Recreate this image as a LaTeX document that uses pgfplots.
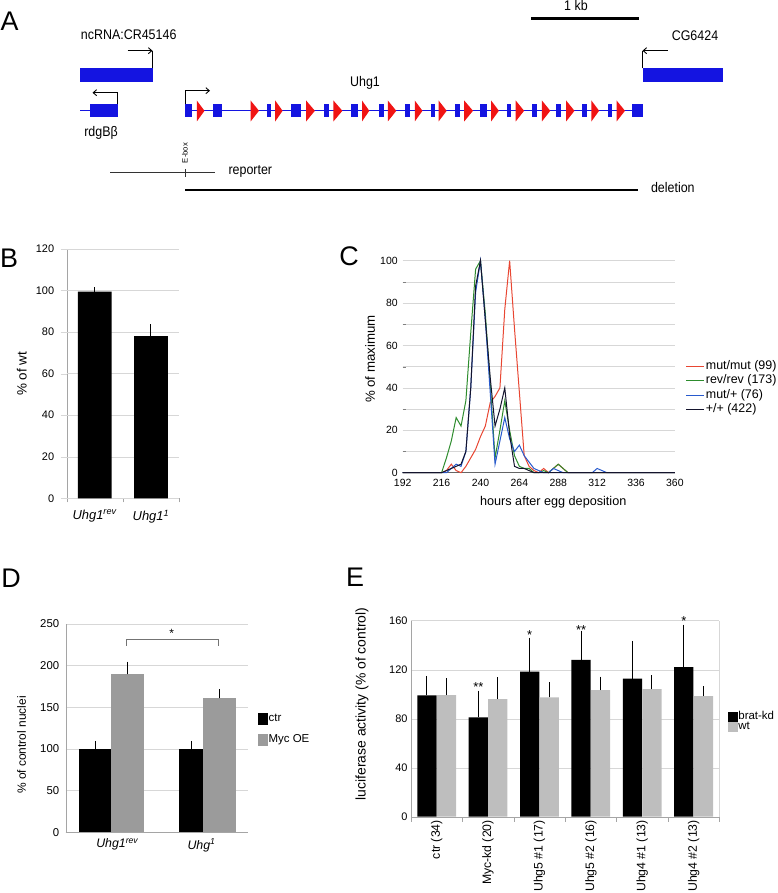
\documentclass[border=0pt]{standalone}
\usepackage{fontspec}
\setmainfont{Liberation Sans}
\usepackage{pgfplots}
\pgfplotsset{compat=1.18}
\usetikzlibrary{arrows.meta}
\definecolor{gblue}{RGB}{20,20,225}
\definecolor{gred}{RGB}{240,20,20}
\definecolor{cred}{RGB}{232,70,50}
\definecolor{cgreen}{RGB}{45,140,45}
\definecolor{cblue}{RGB}{40,90,205}
\definecolor{cblack}{RGB}{20,20,45}
\definecolor{gridc}{RGB}{215,215,215}
\definecolor{axc}{RGB}{165,165,165}
\definecolor{dgray}{RGB}{155,155,155}
\definecolor{egray}{RGB}{190,190,190}
\newcommand{\fs}[1]{\fontsize{#1}{#1}\selectfont}
\pgfplotsset{
  panel/.style={scale only axis, anchor=south west, enlargelimits=false, clip=false,
    /pgf/number format/assume math mode=true,
    axis x line*=bottom, axis y line*=left, axis line style={draw=axc},
    grid style={gridc}, major tick length=0pt},
  ebar/.style={error bars/.cd, y dir=plus, y explicit,
    error bar style={line width=1bp,color=black},
    error mark options={mark size=3.5bp,line width=1bp,black}, /pgfplots/.cd},
}
\tikzset{atxt/.style={font=\fs{12.5}, yscale=1.12}}
\begin{document}
\begin{tikzpicture}
\path[use as bounding box] (0,0) rectangle (778bp,893bp);
\begin{scope}[x=1bp,y=-1bp,yshift=893bp]
% panel letters
\node[font=\fs{27}] at (9.5,21) {A};
\node[font=\fs{27}] at (9,258) {B};
\node[font=\fs{27}] at (349,256.5) {C};
\node[font=\fs{27}] at (11,578) {D};
\node[font=\fs{27}] at (355,577) {E};
% scale bar
\draw[line width=3bp] (531,19) -- (638.5,19);
\node[atxt] at (576,6) {1 kb};
% flanking genes
\node[atxt] at (128.7,35) {ncRNA:CR45146};
\node[atxt] at (695,36) {CG6424};
\fill[gblue] (80,68.3) rectangle (152.5,81.7);
\fill[gblue] (642.5,68.3) rectangle (722.5,81.7);
\draw[line width=0.9bp] (152.5,68.3) -- (152.5,50.7);
\draw[line width=0.9bp,-{Straight Barb[length=3.5bp,width=6bp]}] (127.5,50.7) -- (152.5,50.7);
\draw[line width=0.9bp] (642.5,68.3) -- (642.5,50.7);
\draw[line width=0.9bp,-{Straight Barb[length=3.5bp,width=6bp]}] (667.5,50.7) -- (642.5,50.7);
% rdgB beta
\draw[gblue,line width=0.9bp] (80,110.8) -- (90,110.8);
\fill[gblue] (90,104.3) rectangle (117.5,117.3);
\draw[line width=0.9bp,-{Straight Barb[length=3.5bp,width=6bp]}] (117.5,104.3) -- (117.5,92.7) -- (92.5,92.7);
\node[atxt] at (101,132.7) {rdgBβ};
% Uhg1
\node[atxt] at (365,82.7) {Uhg1};
\draw[gblue,line width=0.9bp] (185,110.8) -- (642.5,110.8);
\draw[line width=0.9bp,-{Straight Barb[length=3.5bp,width=6bp]}] (185,104.3) -- (185,90.7) -- (210,90.7);
\foreach \a/\b in {185/192.1,212.9/222.3,267.1/271.1,291.3/301.4,323.9/329,351.2/357.6,379.4/383.5,405/410.4,430.6/434.9,455.1/460.2,480.4/487.1,507.3/511.3,531.8/536.9,556.1/561.1,582.3/587.3,607.5/611.6,631.7/642.5}
  \fill[gblue] (\a,104.5) rectangle (\b,117);
\foreach \a/\b in {196.8/204.5,250.6/259,275.2/282.6,306.1/314.9,333.4/342.4,362/369.3,387.8/396.3,414.8/422.5,438.6/446.7,464.2/473,491.1/498.9,515.7/524.1,541.9/550.3,566.1/574.5,591.4/599.1,616.6/625}
  \fill[gred] (\a,100.5) -- (\b,110.8) -- (\a,121.5) -- cycle;
% reporter / deletion
\node[font=\fs{7.7},rotate=90] at (185,153) {E-box};
\draw[line width=0.8bp,black!80] (110,172.7) -- (215,172.7);
\draw[line width=0.8bp,black!80] (185,169) -- (185,177);
\node[atxt,anchor=west] at (225,171.7) {reporter};
\draw[line width=1.8bp] (185,190) -- (637.5,190);
\node[atxt,anchor=west] at (647.5,188) {deletion};
\end{scope}

% ---------------- Panel B
\begin{axis}[panel, at={(66.7bp,394.7bp)}, width=112.3bp, height=249.3bp,
  xmin=0.5, xmax=2.5, ymin=0, ymax=120, ybar, bar width=0.6,
  ytick={0,20,...,120}, ymajorgrids,
  xtick={1,2},
  xticklabels={\textit{Uhg1}\textsuperscript{\textit{rev}}, \textit{Uhg1}\textsuperscript{\textit{1}}},
  minor xtick={0.5,1.5,2.5}, minor tick length=4bp,
  every minor x tick/.style={draw=axc}, tick align=outside,
  extra y ticks={0,20,...,120}, extra y tick labels={}, extra y tick style={major tick length=6bp, every major y tick/.style={draw=gridc}},
  yticklabel style={font=\fs{11}, xshift=-9bp},
  xticklabel style={font=\fs{13}, yshift=-8bp},
  ylabel={\% of wt}, ylabel style={font=\fs{13.5}, at={(rel axis cs:-0.40,0.5)}, anchor=center},
]
\addplot[fill=black, draw=none, ebar] coordinates {(1,99.5) +- (0,0.5) (2,78) +- (0,4)};
\end{axis}

% ---------------- Panel C
\begin{axis}[panel, at={(402.7bp,420.3bp)}, width=272.2bp, height=212bp,
  xmin=192, xmax=360, ymin=0, ymax=100,
  xtick={192,216,...,360}, ytick={0,20,...,100}, minor ytick={10,30,...,90},
  ymajorgrids, yminorgrids, minor grid style={gridc},
  y axis line style={draw=none}, x axis line style={draw=black!60, line width=1.2bp},
  ticklabel style={font=\fs{10.5}},
  xticklabel style={yshift=-2.5bp},
  yticklabel style={xshift=-1.5bp},
  xlabel={hours after egg deposition}, xlabel style={font=\fs{12.7}, at={(rel axis cs:0.553,-0.137)}, anchor=center},
  ylabel={\% of maximum}, ylabel style={font=\fs{13.3}, at={(rel axis cs:-0.12,0.536)}, anchor=center},
  legend style={at={(rel axis cs:1.04,0.536)}, anchor=north west, draw=none, fill=none,
    font=\fs{12.5}, inner sep=0pt, nodes={inner sep=1bp, text height=9bp, text depth=3bp}, row sep=0.5bp},
  legend cell align=left,
  legend image code/.code={\draw[#1,line width=0.9bp] (0bp,0bp) -- (18bp,0bp);},
]
\addplot[cred, line width=1bp] coordinates {(192,0)(216,0)(219,1)(222,4)(225,1)(228,0)(231,3)(234,7)(237,11)(240,17)(243,22)(246,33)(249,36)(252,40)(255,77)(258,100)(261,68)(264,38)(267,8)(270,3)(273,1)(276,0)(279,2)(282,0)(285,2)(288,4)(291,2)(294,0)(360,0)};
\addlegendentry{mut/mut (99)}
\addplot[cgreen, line width=1bp] coordinates {(192,0)(216,0)(219,7)(222,15)(225,26)(228,22)(231,34)(234,66)(237,96)(240,100)(243,75)(246,42)(249,7)(252,20)(255,34)(258,20)(261,8)(264,3)(267,2)(270,2)(273,0)(276,0)(279,1)(282,0)(285,2)(288,4)(291,2)(294,0)(360,0)};
\addlegendentry{rev/rev (173)}
\addplot[cblue, line width=1bp] coordinates {(192,0)(219,0)(222,2)(225,4)(228,3)(231,10)(234,40)(237,85)(240,100)(243,72)(246,38)(249,4)(252,15)(255,26)(258,16)(261,10)(264,13)(267,8)(270,5)(273,2)(276,1)(279,0)(282,0)(285,2)(288,1)(291,0)(309,0)(312,2)(315,1)(318,0)(360,0)};
\addlegendentry{mut/+ (76)}
\addplot[cblack, line width=1bp] coordinates {(192,0)(216,0)(219,1)(222,2)(225,3)(228,4)(231,10)(234,40)(237,88)(240,100)(243,72)(246,45)(249,22)(252,30)(255,40)(258,18)(261,3)(264,2)(267,2)(270,1)(273,0)(360,0)};
\addlegendentry{+/+ (422)}
\end{axis}

% ---------------- Panel D
\begin{axis}[panel, at={(65.7bp,60.7bp)}, width=182.6bp, height=208.3bp,
  xmin=65.7, xmax=248.3, ymin=0, ymax=250, ybar,
  ytick={0,50,...,250}, ymajorgrids,
  xtick={117.5,201.5},
  xticklabels={\textit{Uhg1}\textsuperscript{\textit{rev}}, \textit{Uhg}\textsuperscript{\textit{1}}},
  yticklabel style={font=\fs{11.4}, xshift=-3bp},
  xticklabel style={font=\fs{12.4}, yshift=-3bp},
  ylabel={\% of control nuclei}, ylabel style={font=\fs{12}, at={(rel axis cs:-0.241,0.419)}, anchor=center},
  legend style={at={(rel axis cs:1.05,0.58)}, anchor=north west, draw=none, fill=none,
    font=\fs{11.5}, inner sep=0pt, nodes={inner sep=1bp, text height=9bp, text depth=3bp}, row sep=7bp},
  legend cell align=left,
  legend image code/.code={\fill[#1] (0bp,-6bp) rectangle (10bp,6bp);},
]
\addplot[fill=black, draw=none, bar width=32, bar shift=0, ebar] coordinates {(95,100) +- (0,5.5)};
\addlegendentry{ctr}
\addplot[fill=dgray, draw=none, bar width=33, bar shift=0, ebar] coordinates {(127.5,189.5) +- (0,11)};
\addlegendentry{Myc OE}
\addplot[forget plot, fill=black, draw=none, bar width=24, bar shift=0, ebar] coordinates {(191,100) +- (0,5.5)};
\addplot[forget plot, fill=dgray, draw=none, bar width=33, bar shift=0, ebar] coordinates {(219,160.7) +- (0,6.7)};
\draw[black!55, line width=0.8bp] (axis cs:126.7,224) -- (axis cs:126.7,231.6) -- (axis cs:218.3,231.6) -- (axis cs:218.3,224);
\node[font=\fs{12}] at (axis cs:171.7,238.8) {*};
\end{axis}

% ---------------- Panel E
\begin{axis}[panel, at={(411bp,76.3bp)}, width=308.3bp, height=196bp,
  xmin=-0.5, xmax=5.5, ymin=0, ymax=160, ybar, bar width=0.375,
  ytick={0,40,...,160}, ymajorgrids,
  xtick={0,...,5},
  xticklabels={ctr (34), Myc-kd (20), Uhg5 \#1 (17), Uhg5 \#2 (16), Uhg4 \#1 (13), Uhg4 \#2 (13)},
  xticklabel style={font=\fs{12.3}, rotate=90, anchor=east},
  minor xtick={-0.5,0.5,...,5.5}, minor tick length=5bp, tick align=outside,
  every minor x tick/.style={draw=axc},
  yticklabel style={font=\fs{11}},
  ylabel={luciferase activity (\% of control)}, ylabel style={font=\fs{14}, at={(rel axis cs:-0.159,0.575)}, anchor=center},
  legend style={at={(rel axis cs:1.027,0.536)}, anchor=north west, draw=none, fill=none,
    font=\fs{11.5}, inner sep=0pt, nodes={inner sep=0bp, text height=8bp, text depth=2bp}, row sep=0bp},
  legend cell align=left,
  legend image code/.code={\fill[#1] (0bp,-5bp) rectangle (10.6bp,5bp);},
]
\addplot[fill=black, draw=none, bar shift=-0.19, ebar] coordinates {(0,99) +- (0,13) (1,81) +- (0,19) (2,118.4) +- (0,25) (3,128) +- (0,21) (4,112.7) +- (0,28) (5,122) +- (0,32)};
\addlegendentry{brat-kd}
\addplot[fill=egray, draw=none, bar shift=0.19, ebar] coordinates {(0,99.3) +- (0,11) (1,96) +- (0,15) (2,97.4) +- (0,9.5) (3,103.4) +- (0,8) (4,104.2) +- (0,8.5) (5,98.5) +- (0,5)};
\addlegendentry{wt}
\draw[gridc] (rel axis cs:1,0) -- (rel axis cs:1,1);
\node[font=\fs{13}] at (axis cs:0.81,106.1) {**};
\node[font=\fs{13}] at (axis cs:1.81,148) {*};
\node[font=\fs{13}] at (axis cs:2.81,152.4) {**};
\node[font=\fs{13}] at (axis cs:4.81,159.8) {*};
\end{axis}
\end{tikzpicture}
\end{document}
